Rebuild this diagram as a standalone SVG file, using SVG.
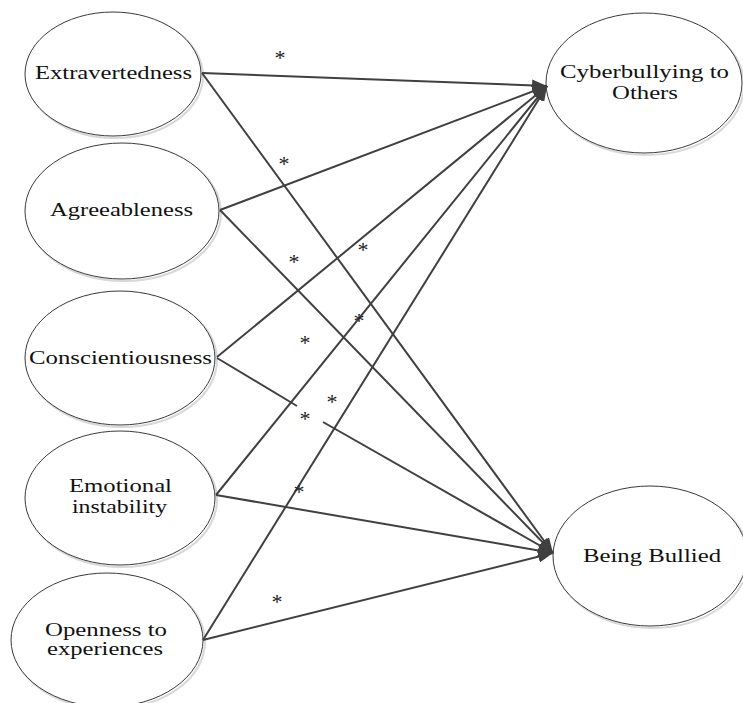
<svg xmlns="http://www.w3.org/2000/svg" width="743" height="703" viewBox="0 0 743 703">
<style>
.node ellipse.sh{fill:none;stroke:#d8d8d8;stroke-width:2}
.node ellipse.b{fill:#fff;stroke:#3a3a3a;stroke-width:1}
.node text{font-family:"Liberation Serif","Times New Roman",serif;font-size:18.5px;fill:#111;text-anchor:start}
.conn line{stroke:#404040;stroke-width:2;fill:none}
.ast{font-family:"Liberation Serif","Times New Roman",serif;font-size:22px;fill:#222;text-anchor:middle}
</style>
<defs>
<marker id="ah" markerUnits="userSpaceOnUse" markerWidth="16" markerHeight="12" refX="15" refY="6" orient="auto">
<path d="M0,0 L15,6 L0,12 z" fill="#404040"/>
</marker>
</defs>
<rect width="743" height="703" fill="#fff"/>
<g id="n-extra" class="node">
<ellipse class="sh" cx="115" cy="76" rx="88" ry="62"/>
<ellipse class="b" cx="113" cy="74" rx="88" ry="62"/>
<text x="35" y="79" textLength="157" lengthAdjust="spacingAndGlyphs">Extravertedness</text>
</g>
<g id="n-agree" class="node">
<ellipse class="sh" cx="124" cy="213" rx="97" ry="68"/>
<ellipse class="b" cx="122" cy="211" rx="97" ry="68"/>
<text x="50" y="216" textLength="143" lengthAdjust="spacingAndGlyphs">Agreeableness</text>
</g>
<g id="n-consc" class="node">
<ellipse class="sh" cx="122" cy="360" rx="95" ry="67"/>
<ellipse class="b" cx="120" cy="358" rx="95" ry="67"/>
<text x="29" y="364" textLength="183" lengthAdjust="spacingAndGlyphs">Conscientiousness</text>
</g>
<g id="n-emot" class="node">
<ellipse class="sh" cx="122" cy="500" rx="95" ry="67"/>
<ellipse class="b" cx="120" cy="498" rx="95" ry="67"/>
<text x="69" y="492" textLength="103" lengthAdjust="spacingAndGlyphs">Emotional</text>
<text x="72" y="513" textLength="95" lengthAdjust="spacingAndGlyphs">instability</text>
</g>
<g id="n-open" class="node">
<ellipse class="sh" cx="109" cy="642" rx="96" ry="67"/>
<ellipse class="b" cx="107" cy="640" rx="96" ry="67"/>
<text x="45" y="636" textLength="122" lengthAdjust="spacingAndGlyphs">Openness to</text>
<text x="47" y="655" textLength="116" lengthAdjust="spacingAndGlyphs">experiences</text>
</g>
<g id="n-cyber" class="node">
<ellipse class="sh" cx="646" cy="85" rx="98" ry="70"/>
<ellipse class="b" cx="644" cy="83" rx="98" ry="70"/>
<text x="560" y="78" textLength="169" lengthAdjust="spacingAndGlyphs">Cyberbullying to</text>
<text x="612" y="99" textLength="66" lengthAdjust="spacingAndGlyphs">Others</text>
</g>
<g id="n-bullied" class="node">
<ellipse class="sh" cx="652" cy="558" rx="97" ry="70"/>
<ellipse class="b" cx="650" cy="556" rx="97" ry="70"/>
<text x="583" y="562" textLength="138" lengthAdjust="spacingAndGlyphs">Being Bullied</text>
</g>
<g id="connectors" class="conn">
<line x1="202" y1="73" x2="547" y2="86" marker-end="url(#ah)"/>
<line x1="202" y1="73" x2="553" y2="553" marker-end="url(#ah)"/>
<line x1="220" y1="210" x2="547" y2="86" marker-end="url(#ah)"/>
<line x1="220" y1="210" x2="553" y2="553" marker-end="url(#ah)"/>
<line x1="217" y1="357" x2="547" y2="86" marker-end="url(#ah)"/>
<line x1="217" y1="358" x2="297" y2="406"/>
<line x1="323" y1="422" x2="553" y2="553" marker-end="url(#ah)"/>
<line x1="216" y1="495" x2="547" y2="86" marker-end="url(#ah)"/>
<line x1="216" y1="495" x2="553" y2="553" marker-end="url(#ah)"/>
<line x1="203" y1="640" x2="547" y2="86" marker-end="url(#ah)"/>
<line x1="203" y1="640" x2="553" y2="553" marker-end="url(#ah)"/>
</g>
<g id="labels">
<text class="ast" x="280" y="65">*</text>
<text class="ast" x="284" y="171">*</text>
<text class="ast" x="294" y="269">*</text>
<text class="ast" x="363" y="257">*</text>
<text class="ast" x="359" y="328">*</text>
<text class="ast" x="305" y="350">*</text>
<text class="ast" x="332" y="409">*</text>
<text class="ast" x="305" y="426">*</text>
<text class="ast" x="299" y="499">*</text>
<text class="ast" x="277" y="609">*</text>
</g>
</svg>
